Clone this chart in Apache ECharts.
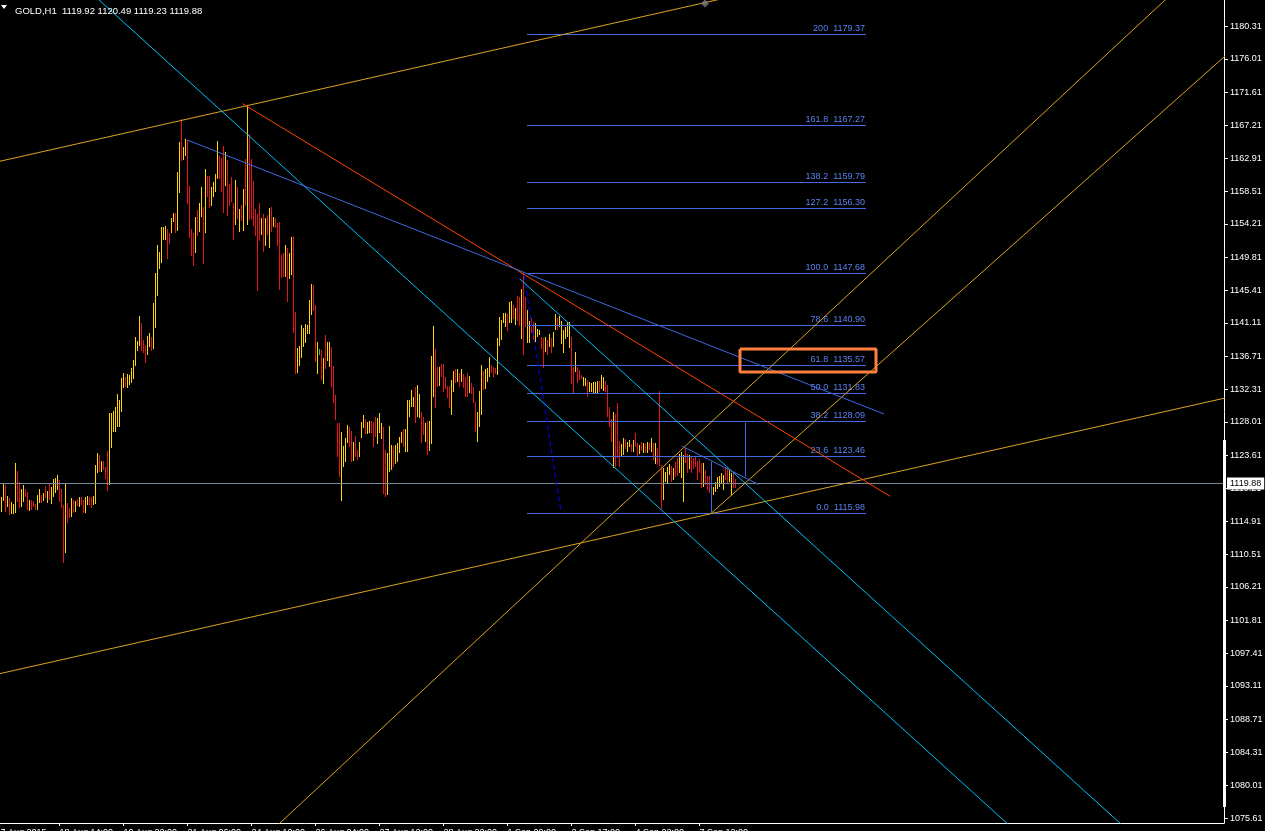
<!DOCTYPE html>
<html><head><meta charset="utf-8">
<script src="https://cdn.jsdelivr.net/npm/echarts@6/dist/echarts.min.js"></script>
<style>html,body{margin:0;padding:0;background:#000;overflow:hidden}#c{width:1265px;height:831px}</style>
</head><body><div id="c"></div>
<script>
// ---- data ----
const symbolTitle = 'GOLD,H1  1119.92 1120.49 1119.23 1119.88';
const lastClose = 1119.88;
const barHigh = [
1118.05,1119.81,1119.68,1118.22,1117.92,1117.43,1117.17,1122.59,1121.53,1120.08,
1119.11,1119.68,1119.11,1118.71,1117.70,1117.70,1117.52,1117.12,1118.36,1119.15,
1118.36,1118.67,1119.55,1118.93,1119.77,1119.46,1120.43,1120.56,1121.00,1120.34,
1119.11,1117.03,1119.99,1117.26,1116.59,1117.92,1117.70,1117.61,1117.87,1118.05,
1118.14,1117.70,1118.14,1118.22,1118.05,1118.14,1118.22,1122.32,1123.87,1123.65,
1122.85,1122.85,1122.10,1124.22,1129.24,1129.24,1129.46,1130.04,1131.71,1130.92,
1133.87,1134.53,1134.00,1134.31,1134.22,1135.19,1136.21,1139.21,1138.76,1142.03,
1141.14,1138.85,1138.19,1139.43,1139.73,1139.21,1143.79,1147.67,1151.42,1150.49,
1153.80,1153.80,1153.93,1153.53,1152.96,1154.99,1155.60,1155.60,1161.11,1165.08,
1168.08,1164.42,1165.39,1165.30,1159.22,1153.49,1152.96,1155.16,1156.04,1157.01,
1159.04,1156.48,1161.47,1160.54,1160.54,1159.04,1159.79,1160.80,1165.17,1163.18,
1162.96,1164.51,1163.67,1162.66,1159.48,1160.36,1156.92,1160.01,1159.04,1156.18,
1156.70,1158.78,1162.74,1169.93,1166.09,1162.74,1159.88,1156.13,1155.52,1156.92,
1155.03,1155.52,1154.94,1155.38,1156.35,1156.40,1155.16,1154.94,1154.28,1154.50,
1150.09,1150.31,1151.42,1150.98,1150.40,1152.52,1152.61,1142.55,1137.80,1138.06,
1140.84,1140.40,1140.97,1140.79,1144.14,1146.26,1146.08,1143.48,1138.54,1137.62,
1137.53,1136.43,1139.51,1138.59,1138.59,1137.97,1135.46,1131.58,1127.83,1127.83,
1126.73,1124.83,1125.93,1127.61,1127.39,1126.86,1125.41,1126.16,1124.30,1125.41,
1127.96,1128.93,1128.40,1127.96,1128.18,1128.10,1128.05,1128.62,1128.49,1129.15,
1127.92,1127.39,1124.30,1123.95,1127.48,1124.97,1124.83,1124.97,1125.27,1126.07,
1126.73,1127.04,1127.04,1130.92,1130.92,1132.24,1131.36,1132.68,1132.90,1131.71,
1129.37,1128.71,1127.83,1128.18,1128.18,1136.74,1140.70,1137.62,1135.32,1135.24,
1135.68,1135.68,1134.00,1132.77,1132.77,1133.56,1134.80,1135.06,1134.97,1134.53,
1134.97,1134.36,1133.91,1134.53,1134.09,1133.21,1132.68,1130.70,1129.37,1132.15,
1135.55,1134.80,1134.97,1135.10,1136.65,1135.55,1135.32,1135.10,1139.07,1141.85,
1141.50,1142.47,1142.38,1142.29,1143.92,1144.05,1143.48,1143.04,1144.67,1144.58,
1145.55,1147.68,1144.58,1142.82,1141.36,1141.72,1141.28,1141.06,1140.26,1140.17,
1139.29,1139.07,1139.20,1138.85,1139.64,1139.07,1139.95,1142.29,1141.72,1142.02,
1141.41,1140.17,1140.62,1141.28,1141.19,1139.29,1135.32,1137.31,1135.24,1134.88,
1134.22,1133.91,1133.78,1133.56,1133.34,1133.21,1133.34,1133.34,1133.47,1133.47,
1134.22,1134.00,1133.47,1132.90,1130.04,1128.36,1129.37,1129.07,1130.48,1125.54,
1125.10,1125.85,1125.72,1125.41,1125.63,1125.10,1125.63,1126.51,1125.27,1124.97,
1125.41,1125.27,1125.10,1125.41,1125.27,1125.85,1125.27,1125.27,1124.52,1132.15,
1122.32,1121.88,1121.44,1122.10,1122.45,1122.19,1121.88,1122.76,1123.20,1123.78,
1124.08,1123.64,1124.52,1123.78,1123.64,1123.42,1123.20,1123.42,1122.89,1123.07,
1122.54,1122.63,1121.66,1120.87,1120.87,1120.78,1119.46,1120.12,1120.78,1120.87,
1121.22,1121.00,1122.01,1121.88,1121.66,1121.22,1121.44,1120.49];
const barLow = [
1116.15,1117.61,1116.15,1116.82,1115.71,1115.84,1115.84,1116.02,1117.48,1116.68,
1116.82,1117.48,1118.05,1116.37,1116.24,1116.37,1116.82,1116.37,1116.37,1117.26,
1117.26,1117.61,1117.92,1117.26,1117.70,1117.12,1118.14,1118.58,1119.02,1117.48,
1116.59,1109.41,1110.73,1114.61,1115.27,1115.49,1116.02,1116.15,1116.90,1116.82,
1117.03,1116.02,1116.02,1117.08,1117.03,1116.59,1117.03,1117.12,1121.31,1121.44,
1121.44,1121.66,1120.47,1118.93,1119.68,1124.62,1126.73,1126.73,1127.39,1127.39,
1129.38,1132.46,1132.59,1132.46,1132.90,1133.12,1133.65,1135.46,1137.44,1138.06,
1137.44,1137.09,1135.86,1136.91,1137.88,1137.44,1137.71,1140.40,1144.67,1148.28,
1148.99,1152.08,1152.08,1149.61,1151.55,1153.05,1154.41,1153.05,1153.27,1158.25,
1162.52,1162.66,1163.18,1156.84,1152.39,1150.00,1148.68,1150.40,1152.61,1153.18,
1155.07,1148.90,1153.05,1157.81,1156.35,1156.57,1157.81,1158.47,1160.14,1160.10,
1158.47,1155.60,1159.22,1155.25,1156.57,1157.15,1152.08,1154.06,1154.81,1153.18,
1154.63,1153.31,1156.57,1154.06,1154.72,1154.81,1153.93,1152.61,1145.38,1151.99,
1152.74,1150.53,1151.28,1152.74,1151.06,1153.18,1153.84,1153.62,1151.28,1145.46,
1147.01,1147.14,1147.23,1143.92,1146.88,1147.45,1139.82,1134.36,1134.44,1135.46,
1136.52,1137.97,1138.50,1139.65,1139.65,1142.16,1142.73,1135.99,1134.31,1136.87,
1133.56,1133.03,1134.97,1136.12,1135.33,1132.68,1130.48,1128.27,1123.42,1120.69,
1117.56,1122.10,1122.76,1125.27,1124.75,1122.67,1122.85,1123.42,1122.98,1123.42,
1125.85,1127.17,1126.42,1126.42,1126.51,1126.51,1124.75,1126.07,1125.10,1126.51,
1125.76,1118.49,1118.05,1118.36,1121.40,1121.66,1122.01,1122.45,1122.76,1123.95,
1125.27,1124.75,1124.08,1124.08,1128.62,1130.04,1130.04,1127.83,1128.62,1128.49,
1125.27,1126.29,1125.41,1123.64,1124.22,1125.10,1131.27,1129.81,1132.68,1132.77,
1134.00,1132.02,1132.33,1131.14,1129.81,1128.93,1132.02,1133.21,1133.34,1132.59,
1133.34,1132.46,1131.27,1131.27,1131.89,1131.67,1130.56,1126.73,1125.41,1127.30,
1128.93,1132.24,1132.33,1133.34,1134.00,1134.44,1134.00,1134.36,1134.22,1138.06,
1138.85,1141.06,1140.62,1140.09,1141.06,1141.14,1141.58,1140.84,1141.41,1140.70,
1138.94,1136.87,1140.62,1138.50,1138.50,1139.82,1138.85,1138.63,1139.20,1139.51,
1137.62,1135.10,1137.31,1136.87,1137.88,1137.18,1137.88,1140.17,1140.17,1140.62,
1138.32,1137.18,1138.94,1139.20,1137.75,1133.03,1131.80,1134.66,1133.21,1133.56,
1133.65,1132.77,1132.77,1131.27,1132.02,1132.02,1131.89,1131.89,1131.80,1132.02,
1132.33,1132.15,1132.02,1128.71,1127.30,1125.41,1121.88,1122.10,1123.20,1122.10,
1123.51,1123.64,1124.39,1124.08,1124.66,1124.08,1124.08,1124.66,1123.42,1123.78,
1124.22,1123.86,1123.95,1123.86,1124.30,1124.08,1122.98,1122.45,1122.32,1122.19,
1116.46,1117.69,1120.12,1119.90,1121.00,1120.12,1120.34,1120.78,1120.87,1121.22,
1120.56,1117.47,1122.54,1121.22,1121.75,1121.31,1121.75,1122.10,1120.34,1121.22,
1119.24,1119.46,1119.68,1119.02,1118.58,1115.98,1118.36,1118.80,1119.11,1119.46,
1119.90,1119.02,1120.34,1119.99,1120.12,1118.36,1119.24,1119.23];
// Y = up bar, R = down bar, G = unchanged
const barDir = (
"YYRYRYYYRR"+"YYRRYRRRYY"+"RYRYRYYYYR"+"RRYRRYRYRY"+"RRYYRRYYYR"+
"YRRRYYYYYY"+"YYRYYYYYYY"+"RRRYYRYYYY"+"YYYRRYYRYY"+"RYYRRRRYRY"+
"YRYRRYYYYR"+"RRYRRRRYRY"+"RYRYRRRRRR"+"YRYRYRYRRR"+"RRYRYYRRYY"+
"YYYYYYRRYG"+"RYRYYRRRRR"+"YYYYRRYRRY"+"YYRYYRRRYY"+"YRRYYYRYYY"+
"YRYYYYYRYY"+"RRYRYYYRRY"+"RRRRRYYRYR"+"YRRRYRRRYY"+"YRYYYRRRYY"+
"YYYRYYRYRR"+"YRRYYRRYYY"+"RRYRYRYYRY"+"YYYYYRRYRR"+"RYYRYYYYYR"+
"YYRRRRYRRR"+"YYRYYRYRRY"+"RYRYRYRYRR"+"RYYYYRYRRY"+"YYRRYRRRRR"+
"RYRRRRYYYY"+"YYRRYYRR").split('');

const yTickValues = [1180.31,1176.01,1171.61,1167.21,1162.91,1158.51,1154.21,1149.81,1145.41,1141.11,
  1136.71,1132.31,1128.01,1123.61,1119.21,1114.91,1110.51,1106.21,1101.81,1097.41,1093.11,1088.71,
  1084.31,1080.01,1075.61];
const xTickBars = [-2,30,62,94,126,158,190,222,254,286,318,350];
const xTickLabels = ['17 Aug 2015','18 Aug 14:00','19 Aug 22:00','21 Aug 06:00','24 Aug 10:00',
  '26 Aug 04:00','27 Aug 12:00','28 Aug 22:00','1 Sep 09:00','2 Sep 17:00','4 Sep 02:00','7 Sep 12:00'];

const fibLevels = ['0.0','23.6','38.2','50.0','61.8','78.6','100.0','127.2','138.2','161.8','200'];
const fibPrices = [1115.98,1123.46,1128.09,1131.83,1135.57,1140.90,1147.68,1156.30,1159.79,1167.27,1179.37];
const fibRange = [263.75, 433.25];
const fibDiagonal = [[262.25,1147.45],[280.75,1116.15]];

const upperChannel = [[-6,1162.12],[620,1199.37]];
const lowerChannel = [[-6,1094.37],[620,1131.61]];
const goldFanA = [[130,1072.47],[600,1188.04]];
const goldFanB = [[356,1115.98],[620,1178.10]];
const cyanLineA = [[-6,1197.19],[520,1071.05]];
const cyanLineB = [[260,1146.97],[570,1072.63]];
const redTrend = [[121.5,1170.10],[445.25,1118.20]];
const blueTrend = [[93.9,1165.30],[442.25,1129.07]];
const blueSmallTrend = [[341.1,1124.84],[379.4,1119.77]];
const blueVertical1 = [[356,1122.76],[356,1115.94]];
const blueVertical2 = [[373,1127.92],[373,1120.78]];
const targetBox = [[370.25,1137.66],[438.25,1137.66],[438.25,1134.62],[370.25,1134.62],[370.25,1137.66]];
const anchorMarker = [[352.75,1183.35]];

// ---- chart ----
const FONT = 'Liberation Sans, Arial, sans-serif';
const chart = echarts.init(document.getElementById('c'), null, {renderer:'canvas'});
const bars = barHigh.map((h,i)=>[i+1, h, barLow[i]]);
const dirColor = {Y:'#FFD700', R:'#E8141B', G:'#19D219'};

function lineSeries(data, color, width, extra){
  return Object.assign({type:'line', data:data, symbol:'none', showSymbol:false, silent:true,
    clip:true, animation:false, z:5, lineStyle:{color:color, width:width}}, extra||{});
}

const series = [
  {type:'custom', name:'bars', data:bars, encode:{x:0,y:[1,2]}, clip:true, animation:false, z:3,
   renderItem:function(params, api){
     const n = api.value(0), hi = api.value(1), lo = api.value(2);
     const d = barDir[params.dataIndex];
     const a = api.coord([n,hi]), b = api.coord([n,lo]);
     let y1 = Math.round(a[1]), y2 = Math.round(b[1]);
     if (y2 - y1 < 1) y2 = y1 + 1;
     return {type:'line', shape:{x1:a[0], y1:y1, x2:a[0], y2:y2},
             style:{stroke:dirColor[d], lineWidth:1}};
   },
   markLine:{symbol:'none', silent:true, animation:false,
     lineStyle:{color:'#778899', width:1, type:'solid'},
     label:{show:true, position:'end', distance:3, formatter:lastClose.toFixed(2), color:'#000',
       backgroundColor:'#fff', padding:[2,3,1,3], fontSize:9, fontFamily:FONT},
     data:[{yAxis:lastClose}]}
  },
  {type:'custom', name:'fib', data:fibPrices.map((p,i)=>[fibRange[0], fibRange[1], p, i]),
   encode:{x:[0,1], y:2}, clip:true, animation:false, z:4,
   renderItem:function(params, api){
     const a = api.coord([api.value(0), api.value(2)]);
     const b = api.coord([api.value(1), api.value(2)]);
     const i = api.value(3);
     const y = Math.round(a[1]) + 0.5;
     return {type:'group', children:[
       {type:'line', shape:{x1:a[0], y1:y, x2:b[0], y2:y}, style:{stroke:'#4169E1', lineWidth:1}},
       {type:'text', x:b[0]-1, y:y-1, style:{text:fibLevels[i]+'  '+fibPrices[i].toFixed(2),
         fill:'#5A82F0', font:'9px '+FONT, textAlign:'right', textVerticalAlign:'bottom'}}
     ]};
   }},
  lineSeries(fibDiagonal, '#0000FF', 1, {lineStyle:{color:'#0000FF', width:1, type:[5,3]}}),
  lineSeries(upperChannel, '#DAA520', 1),
  lineSeries(lowerChannel, '#DAA520', 1),
  lineSeries(goldFanA, '#DAA520', 1),
  lineSeries(goldFanB, '#DAA520', 1),
  lineSeries(cyanLineA, '#00BFFF', 1),
  lineSeries(cyanLineB, '#00BFFF', 1),
  lineSeries(redTrend, '#FF4500', 1),
  lineSeries(blueTrend, '#4169E1', 1),
  lineSeries(blueSmallTrend, '#4169E1', 1),
  lineSeries(blueVertical1, '#4169E1', 1),
  lineSeries(blueVertical2, '#4169E1', 1),
  lineSeries(targetBox, '#FF7F3F', 3, {z:6}),
  {type:'scatter', data:anchorMarker, symbol:'diamond', symbolSize:[8,8], silent:true, animation:false,
   itemStyle:{color:'#808080'}, z:7}
];

chart.setOption({
  backgroundColor:'#000',
  animation:false,
  title:{text:symbolTitle, left:10, top:1, textStyle:{color:'#fff', fontSize:9.5, fontWeight:'normal', fontFamily:FONT}},
  graphic:[
    {type:'polygon', shape:{points:[[1,5],[7,5],[4,9]]}, style:{fill:'#fff'}, z:100},
    {type:'rect', shape:{x:1223, y:440, width:3, height:367}, style:{fill:'#fff'}, z:100}
  ],
  grid:{left:-10, right:41, top:0, bottom:8, containLabel:false, outerBoundsMode:'none'},
  xAxis:{type:'value', min:-4.75, max:612.25,
    splitLine:{show:false},
    axisLine:{show:true, onZero:false, lineStyle:{color:'#fff', width:1}},
    axisTick:{show:true, customValues:xTickBars, length:3, lineStyle:{color:'#fff'}},
    axisLabel:{show:true, customValues:xTickBars, align:'left', margin:5, color:'#fff', fontSize:9, fontFamily:FONT,
      hideOverlap:false, showMinLabel:true, showMaxLabel:true,
      formatter:function(v){ const i = xTickBars.indexOf(Math.round(v)); return i>=0 ? xTickLabels[i] : ''; }}
  },
  yAxis:{type:'value', position:'right', min:1074.99, max:1183.81,
    splitLine:{show:false},
    axisLine:{show:true, onZero:false, lineStyle:{color:'#fff', width:1}},
    axisTick:{show:true, customValues:yTickValues, length:4, lineStyle:{color:'#fff'}},
    axisLabel:{show:true, customValues:yTickValues, margin:6, color:'#fff', fontSize:9, fontFamily:FONT,
      hideOverlap:false,
      formatter:function(v){ return v.toFixed(2); }}
  },
  series:series
});
</script></body></html>
